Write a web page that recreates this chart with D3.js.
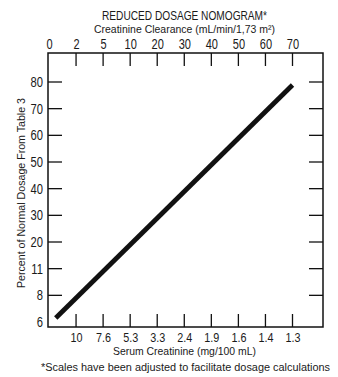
<!DOCTYPE html>
<html>
<head>
<meta charset="utf-8">
<script src="https://cdn.jsdelivr.net/npm/d3@7"></script>
<style>
  html, body { margin: 0; padding: 0; background: #fff; }
  svg { display: block; }
  text { font-family: "Liberation Sans", Arial, sans-serif; fill: #1a1a1a; }
</style>
</head>
<body>
<div id="chart"></div>
<script>
// ---- data ----
const clearanceTicks = [0, 2, 5, 10, 20, 30, 40, 50, 60, 70];
const creatinineLabels = ["", "10", "7.6", "5.3", "3.3", "2.4", "1.9", "1.6", "1.4", "1.3"];
const percentTicks = [6, 8, 11, 20, 30, 40, 50, 60, 70, 80];
const lineClearance = [0.5, 70];
const linePercent = [6.3, 78.9];

const titleText = "REDUCED DOSAGE NOMOGRAM*";
const topAxisTitle = "Creatinine Clearance (mL/min/1,73 m\u00B2)";
const bottomAxisTitle = "Serum Creatinine (mg/100 mL)";
const yAxisTitle = "Percent of Normal Dosage From Table 3";
const footnote = "*Scales have been adjusted to facilitate dosage calculations";

// ---- layout ----
const W = 338, H = 377;
const frame = { left: 48, right: 323, top: 53, bottom: 327 };

const svg = d3.select("#chart").append("svg").attr("width", W).attr("height", H);

// condensed look: squeeze glyphs horizontally
function condense(sel, factor) {
  sel.each(function () {
    const w = this.getComputedTextLength();
    d3.select(this).attr("textLength", w * factor).attr("lengthAdjust", "spacingAndGlyphs");
  });
}
function fitWidth(sel, width) {
  sel.attr("textLength", width).attr("lengthAdjust", "spacingAndGlyphs");
}

// equally spaced nomogram scales (polylinear)
const xStart = 49, xEnd = 292.5;
const xPos = clearanceTicks.map((d, i) => xStart + i * (xEnd - xStart) / (clearanceTicks.length - 1));
const x = d3.scaleLinear().domain(clearanceTicks).range(xPos);

const yStart = 322, yEnd = 82;
const yPos = percentTicks.map((d, i) => yStart - i * (yStart - yEnd) / (percentTicks.length - 1));
const y = d3.scaleLinear().domain(percentTicks).range(yPos);

// frame
svg.append("rect")
  .attr("x", frame.left).attr("y", frame.top)
  .attr("width", frame.right - frame.left).attr("height", frame.bottom - frame.top)
  .attr("fill", "none").attr("stroke", "#111").attr("stroke-width", 1.5);

const tickLen = 13;
// top axis
const topAxis = d3.axisTop(x).tickValues(clearanceTicks).tickSize(0).tickPadding(4).tickFormat(d3.format("d"));
const gTop = svg.append("g").attr("transform", `translate(0,${frame.top})`).call(topAxis);
gTop.select(".domain").remove();
gTop.attr("font-family", null).attr("font-size", null);
gTop.selectAll("text").attr("font-size", 14.5).attr("fill", "#1a1a1a").call(condense, 0.76);

svg.append("g").selectAll("line")
  .data(clearanceTicks.slice(1)).join("line")
  .attr("x1", d => x(d)).attr("x2", d => x(d))
  .attr("y1", frame.top).attr("y2", frame.top + tickLen)
  .attr("stroke", "#111").attr("stroke-width", 1.3);

// bottom axis (serum creatinine labels at same positions)
const bottomAxis = d3.axisBottom(x).tickValues(clearanceTicks.slice(1)).tickSize(0).tickPadding(5)
  .tickFormat(d => creatinineLabels[clearanceTicks.indexOf(d)]);
const gBot = svg.append("g").attr("transform", `translate(0,${frame.bottom})`).call(bottomAxis);
gBot.select(".domain").remove();
gBot.attr("font-family", null).attr("font-size", null);
gBot.selectAll("text").attr("font-size", 13.5).attr("fill", "#1a1a1a").call(condense, 0.8);

svg.append("g").selectAll("line")
  .data(clearanceTicks.slice(1)).join("line")
  .attr("x1", d => x(d)).attr("x2", d => x(d))
  .attr("y1", frame.bottom).attr("y2", frame.bottom - tickLen)
  .attr("stroke", "#111").attr("stroke-width", 1.3);

// left axis
const leftAxis = d3.axisLeft(y).tickValues(percentTicks).tickSize(0).tickPadding(5).tickFormat(d3.format("d"));
const gLeft = svg.append("g").attr("transform", `translate(${frame.left},0)`).call(leftAxis);
gLeft.select(".domain").remove();
gLeft.attr("font-family", null).attr("font-size", null);
gLeft.selectAll("text").attr("font-size", 14).attr("fill", "#1a1a1a").call(condense, 0.8);

svg.append("g").selectAll("line")
  .data(percentTicks.slice(1)).join("line")
  .attr("x1", frame.left).attr("x2", frame.left + 14)
  .attr("y1", d => y(d)).attr("y2", d => y(d))
  .attr("stroke", "#111").attr("stroke-width", 1.3);

// right ticks
svg.append("g").selectAll("line")
  .data(percentTicks.slice(1)).join("line")
  .attr("x1", frame.right).attr("x2", frame.right - 14)
  .attr("y1", d => y(d)).attr("y2", d => y(d))
  .attr("stroke", "#111").attr("stroke-width", 1.3);

// nomogram line
const lineData = lineClearance.map((c, i) => ({ c, p: linePercent[i] }));
svg.append("path")
  .datum(lineData)
  .attr("d", d3.line().x(d => x(d.c)).y(d => y(d.p)))
  .attr("fill", "none").attr("stroke", "#111").attr("stroke-width", 4.8);

// titles
const cx = (frame.left + frame.right) / 2 - 1;
svg.append("text").attr("x", cx).attr("y", 20).attr("text-anchor", "middle")
  .attr("font-size", 13.5).text(titleText).call(fitWidth, 165);
svg.append("text").attr("x", cx).attr("y", 32.5).attr("text-anchor", "middle")
  .attr("font-size", 11.5).text(topAxisTitle).call(fitWidth, 181);
svg.append("text").attr("x", cx).attr("y", 355).attr("text-anchor", "middle")
  .attr("font-size", 11.5).text(bottomAxisTitle).call(fitWidth, 143);
svg.append("text").attr("x", cx + 1).attr("y", 370.5).attr("text-anchor", "middle")
  .attr("font-size", 10).text(footnote).call(fitWidth, 289);
svg.append("text")
  .attr("transform", `translate(25,${(frame.top + frame.bottom) / 2 + 3}) rotate(-90)`)
  .attr("text-anchor", "middle").attr("font-size", 11.5).text(yAxisTitle).call(fitWidth, 190);
</script>
</body>
</html>
